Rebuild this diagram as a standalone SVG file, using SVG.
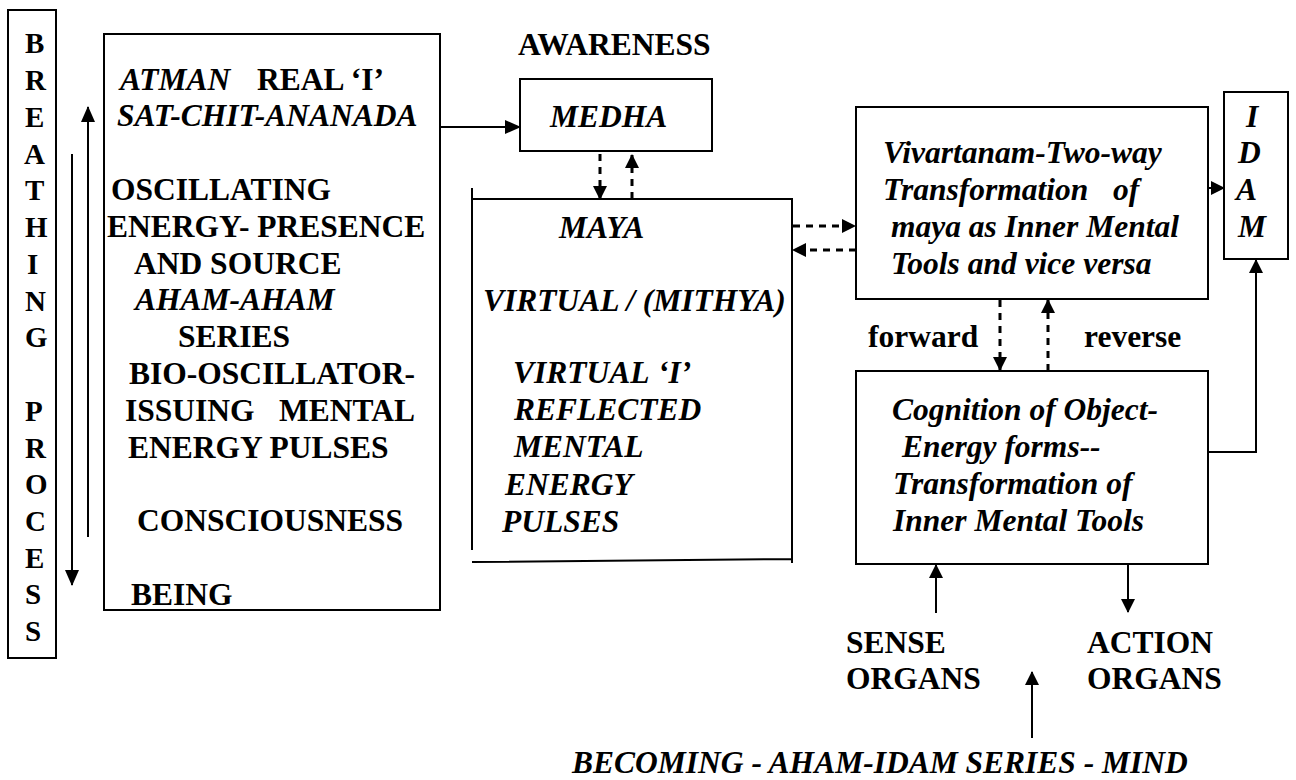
<svg xmlns="http://www.w3.org/2000/svg" width="1296" height="780" viewBox="0 0 1296 780">
<style>
text{font-family:"Liberation Serif","Times New Roman",serif;font-size:31.5px;font-weight:bold;fill:#000}
.i{font-style:italic}
.br{font-size:29px}
.box{fill:none;stroke:#000;stroke-width:2}
.ln{fill:none;stroke:#000;stroke-width:2}
.ds{fill:none;stroke:#000;stroke-width:3;stroke-dasharray:7 6}
</style>
<defs>
<marker id="ah" markerUnits="userSpaceOnUse" markerWidth="16" markerHeight="14" refX="15" refY="7" orient="auto">
<path d="M0,0 L16,7 L0,14 z" fill="#000"/>
</marker>
<marker id="ahs" markerUnits="userSpaceOnUse" markerWidth="14" markerHeight="14" refX="13" refY="7" orient="auto">
<path d="M0,0 L14,7 L0,14 z" fill="#000"/>
</marker>
</defs>
<rect width="1296" height="780" fill="#fff"/>

<g id="breathing">
<rect class="box" x="8" y="10" width="48" height="648"/>
<text class="br" x="25" y="53">B</text>
<text class="br" x="25" y="90">R</text>
<text class="br" x="25" y="127">E</text>
<text class="br" x="24" y="164">A</text>
<text class="br" x="25" y="200">T</text>
<text class="br" x="25" y="237">H</text>
<text class="br" x="27" y="274">I</text>
<text class="br" x="25" y="311">N</text>
<text class="br" x="25" y="347">G</text>
<text class="br" x="25" y="421">P</text>
<text class="br" x="25" y="458">R</text>
<text class="br" x="25" y="494">O</text>
<text class="br" x="25" y="531">C</text>
<text class="br" x="25" y="568">E</text>
<text class="br" x="25" y="604">S</text>
<text class="br" x="25" y="641">S</text>
</g>

<g id="atman">
<rect class="box" x="104" y="34" width="336" height="576"/>
<text y="90"><tspan class="i" x="120">ATMAN</tspan><tspan x="257">REAL ‘I’</tspan></text>
<text class="i" x="117" y="126">SAT-CHIT-ANANADA</text>
<text x="111" y="200">OSCILLATING</text>
<text x="107" y="237">ENERGY- PRESENCE</text>
<text x="134" y="274">AND SOURCE</text>
<text class="i" x="135" y="310">AHAM-AHAM</text>
<text x="178" y="347">SERIES</text>
<text x="129" y="384">BIO-OSCILLATOR-</text>
<text y="421"><tspan x="125">ISSUING</tspan><tspan x="279">MENTAL</tspan></text>
<text x="128" y="458">ENERGY PULSES</text>
<text x="137" y="531">CONSCIOUSNESS</text>
<text x="131" y="605">BEING</text>
</g>

<g id="awareness">
<text x="518" y="55">AWARENESS</text>
</g>

<g id="medha">
<rect class="box" x="520" y="79" width="192" height="72"/>
<text class="i" x="550" y="127">MEDHA</text>
</g>

<g id="maya">
<path class="ln" d="M472,188 V550 M472,199 H792 V563 M472,562 L792,559"/>
<text class="i" x="559" y="238">MAYA</text>
<text class="i" x="483" y="311">VIRTUAL / (MITHYA)</text>
<text class="i" y="383"><tspan x="513">VIRTUAL</tspan><tspan x="658">‘I’</tspan></text>
<text class="i" x="514" y="420">REFLECTED</text>
<text class="i" x="514" y="457">MENTAL</text>
<text class="i" x="505" y="495">ENERGY</text>
<text class="i" x="502" y="532">PULSES</text>
</g>

<g id="vivartanam">
<rect class="box" x="856" y="107" width="352" height="192"/>
<text class="i" x="883" y="163">Vivartanam-Two-way</text>
<text class="i" y="200"><tspan x="883">Transformation</tspan><tspan x="1113">of</tspan></text>
<text class="i" x="891" y="237">maya as Inner Mental</text>
<text class="i" x="891" y="274">Tools and vice versa</text>
</g>

<g id="idam">
<rect class="box" x="1224" y="92" width="64" height="167"/>
<text class="i" x="1246" y="127">I</text>
<text class="i" x="1238" y="163">D</text>
<text class="i" x="1236" y="200">A</text>
<text class="i" x="1238" y="237">M</text>
</g>

<g id="cognition">
<rect class="box" x="856" y="371" width="352" height="193"/>
<text class="i" x="892" y="420">Cognition of Object-</text>
<text class="i" x="902" y="457">Energy forms--</text>
<text class="i" x="893" y="494">Transformation of</text>
<text class="i" x="893" y="531">Inner Mental Tools</text>
</g>

<g id="labels">
<text x="868" y="347">forward</text>
<text x="1084" y="347">reverse</text>
<text x="846" y="653">SENSE</text>
<text x="846" y="689">ORGANS</text>
<text x="1087" y="653">ACTION</text>
<text x="1087" y="689">ORGANS</text>
<text class="i" x="572" y="773">BECOMING - AHAM-IDAM SERIES - MIND</text>
</g>

<g id="connectors">
<line class="ln" x1="88" y1="537" x2="88" y2="107" marker-end="url(#ah)"/>
<line class="ln" x1="72" y1="154" x2="72" y2="585" marker-end="url(#ah)"/>
<line class="ln" x1="440" y1="127" x2="520" y2="127" marker-end="url(#ah)"/>
<line class="ds" x1="600" y1="154" x2="600" y2="199" marker-end="url(#ahs)"/>
<line class="ds" x1="632" y1="199" x2="632" y2="155" marker-end="url(#ahs)"/>
<line class="ds" x1="793" y1="226" x2="855" y2="226" marker-end="url(#ahs)"/>
<line class="ds" x1="856" y1="250" x2="793" y2="250" marker-end="url(#ahs)"/>
<line class="ln" x1="1208" y1="188" x2="1224" y2="188" marker-end="url(#ahs)"/>
<line class="ds" x1="1000" y1="300" x2="1000" y2="370" marker-end="url(#ahs)"/>
<line class="ds" x1="1048" y1="371" x2="1048" y2="300" marker-end="url(#ahs)"/>
<path class="ln" d="M1208,452 H1256 V260" marker-end="url(#ahs)"/>
<line class="ln" x1="936" y1="613" x2="936" y2="565" marker-end="url(#ahs)"/>
<line class="ln" x1="1128" y1="565" x2="1128" y2="612" marker-end="url(#ahs)"/>
<line class="ln" x1="1032" y1="738" x2="1032" y2="672" marker-end="url(#ahs)"/>
</g>
</svg>
